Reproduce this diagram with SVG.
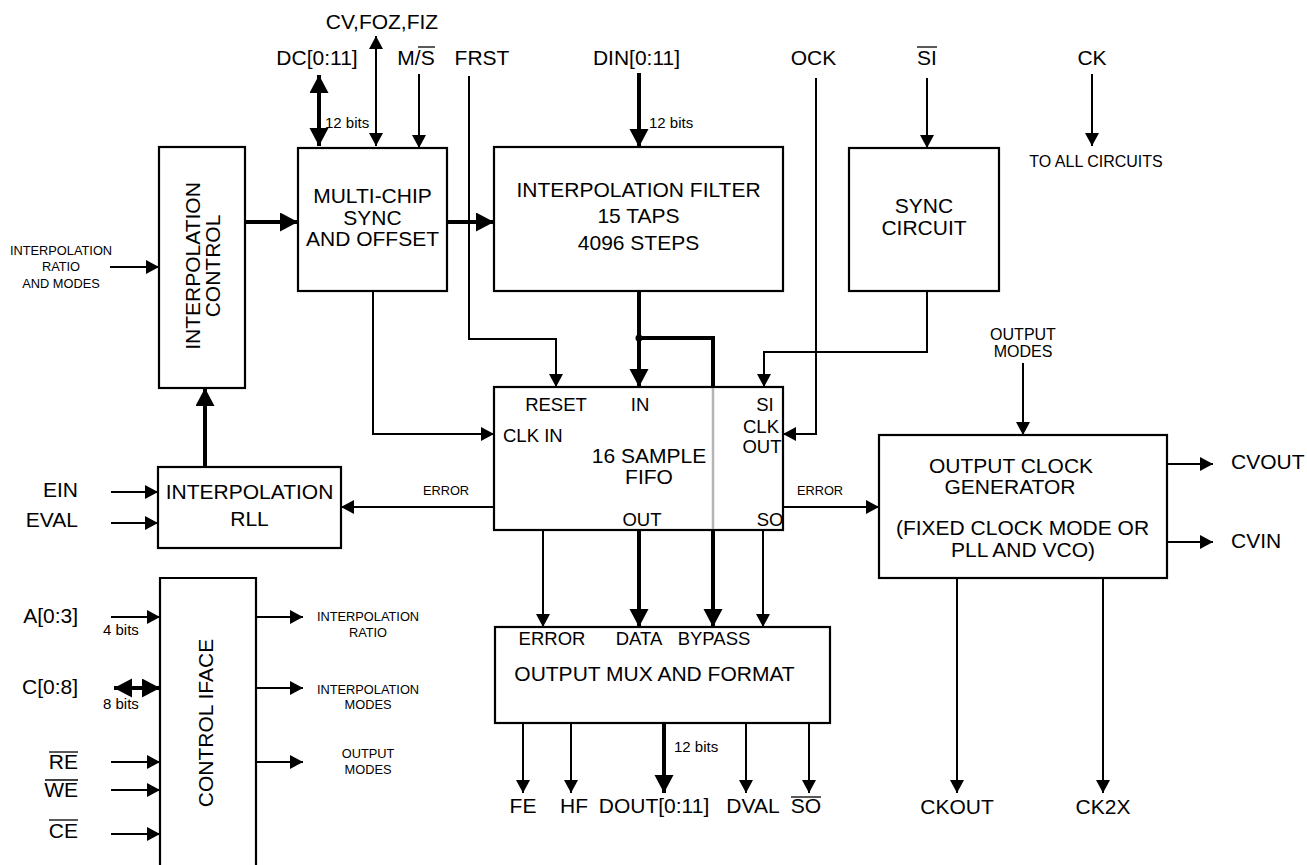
<svg xmlns="http://www.w3.org/2000/svg" width="1307" height="865" viewBox="0 0 1307 865">
<style>
text{font-family:"Liberation Sans",Arial,sans-serif;fill:#000}
.lg{font-size:21px}
.md{font-size:18.5px}
.sm{font-size:12.8px}
.ms{font-size:16px}
.bits{font-size:15px}
.c{text-anchor:middle}
.e{text-anchor:end}
.box{fill:#fff;stroke:#000;stroke-width:2.2}
.w{fill:none;stroke:#000;stroke-width:2}
.t{fill:none;stroke:#000;stroke-width:4}
.a{marker-end:url(#ah)}
.A{marker-end:url(#AH)}
.ov{stroke:#000;stroke-width:1.3}
</style>
<defs>
<marker id="ah" markerUnits="userSpaceOnUse" markerWidth="14" markerHeight="14" refX="13" refY="7" orient="auto-start-reverse"><path d="M0,0 L13,7 L0,14 z" fill="#000"/></marker>
<marker id="AH" markerUnits="userSpaceOnUse" markerWidth="19" markerHeight="20" refX="18" refY="9.5" orient="auto-start-reverse"><path d="M0,0 L18,9.5 L0,19 z" fill="#000"/></marker>
</defs>
<rect width="1307" height="865" fill="#fff"/>

<g id="connectors">
<path class="w" d="M376,36 V146" marker-start="url(#ah)" marker-end="url(#ah)"/>
<path class="w a" d="M419,74 V148"/>
<path class="w a" d="M469,76 V339 H556 V387"/>
<path class="w a" d="M816,78 V434 H783"/>
<path class="w a" d="M927,78 V148"/>
<path class="w a" d="M1092,74 V146"/>
<path class="w a" d="M927,291 V352 H764 V387"/>
<path class="w a" d="M110,267 H159"/>
<path class="w a" d="M373,291 V434 H494"/>
<path class="w a" d="M111,492 H158"/>
<path class="w a" d="M111,523 H158"/>
<path class="w a" d="M494,507 H341"/>
<path class="w a" d="M783,507 H879"/>
<path class="w a" d="M543,530 V627"/>
<path class="w a" d="M763,530 V627"/>
<path class="w a" d="M1023,363 V435"/>
<path class="w a" d="M1167,464 H1213"/>
<path class="w a" d="M1167,542 H1213"/>
<path class="w a" d="M957,578 V793"/>
<path class="w a" d="M1103,578 V793"/>
<path class="w a" d="M523,723 V793"/>
<path class="w a" d="M571,723 V793"/>
<path class="w a" d="M746,723 V793"/>
<path class="w a" d="M809,723 V793"/>
<path class="w a" d="M111,617 H160"/>
<path class="w a" d="M111,762 H160"/>
<path class="w a" d="M111,790 H160"/>
<path class="w a" d="M111,834 H160"/>
<path class="w a" d="M256,617 H303"/>
<path class="w a" d="M256,688 H303"/>
<path class="w a" d="M256,762 H303"/>
<path class="t" d="M319,75 V146" marker-start="url(#AH)" marker-end="url(#AH)"/>
<path class="t A" d="M639,73 V147"/>
<path class="t A" d="M245,222 H298"/>
<path class="t A" d="M447,222 H494"/>
<path class="t A" d="M639,291 V387"/>
<path class="t" d="M639,338 H713 V388"/>
<path class="t A" d="M713,530 V627"/>
<path class="t A" d="M639,530 V627"/>
<path class="t A" d="M205,467 V388"/>
<path class="t A" d="M664,723 V793"/>
<path class="t" d="M114,688 H160" marker-start="url(#AH)" marker-end="url(#AH)"/>
<circle cx="639" cy="338" r="3.5" fill="#000"/>
</g>

<g id="interpolation-control">
<rect class="box" x="159" y="147" width="86" height="241"/>
<text class="lg c" transform="translate(200,266) rotate(-90)">INTERPOLATION</text>
<text class="lg c" transform="translate(220,266) rotate(-90)">CONTROL</text>
</g>

<g id="multi-chip">
<rect class="box" x="298" y="148" width="149" height="143"/>
<text class="lg c" x="372.5" y="203">MULTI-CHIP</text>
<text class="lg c" x="372.5" y="225">SYNC</text>
<text class="lg c" x="372.5" y="246">AND OFFSET</text>
</g>

<g id="interpolation-filter">
<rect class="box" x="494" y="147" width="289" height="144"/>
<text class="lg c" x="638.5" y="197">INTERPOLATION FILTER</text>
<text class="lg c" x="638.5" y="223">15 TAPS</text>
<text class="lg c" x="638.5" y="250">4096 STEPS</text>
</g>

<g id="sync-circuit">
<rect class="box" x="849" y="148" width="150" height="143"/>
<text class="lg c" x="924" y="213">SYNC</text>
<text class="lg c" x="924" y="235">CIRCUIT</text>
</g>

<g id="fifo">
<rect class="box" x="494" y="387" width="289" height="143"/>
<line x1="713" y1="388" x2="713" y2="529" stroke="#b4b4b4" stroke-width="2.5"/>
<text class="md c" x="556" y="411">RESET</text>
<text class="md c" x="640" y="411">IN</text>
<text class="md c" x="765" y="411">SI</text>
<text class="md" x="503" y="442">CLK IN</text>
<text class="md c" x="761" y="433">CLK</text>
<text class="md c" x="762" y="453">OUT</text>
<text class="lg c" x="649" y="463">16 SAMPLE</text>
<text class="lg c" x="649" y="484">FIFO</text>
<text class="md c" x="642" y="526">OUT</text>
<text class="md c" x="770" y="526">SO</text>
</g>

<g id="interpolation-rll">
<rect class="box" x="158" y="467" width="183" height="81"/>
<text class="lg c" x="249.5" y="499">INTERPOLATION</text>
<text class="lg c" x="249.5" y="526">RLL</text>
</g>

<g id="control-iface">
<path class="box" d="M160,870 V578 H256 V870"/>
<text class="lg c" transform="translate(213,723) rotate(-90)">CONTROL IFACE</text>
</g>

<g id="output-mux">
<rect class="box" x="495" y="627" width="335" height="96"/>
<text class="md c" x="552" y="645">ERROR</text>
<text class="md c" x="639" y="645">DATA</text>
<text class="md c" x="714" y="645">BYPASS</text>
<text class="lg c" x="654.5" y="681">OUTPUT MUX AND FORMAT</text>
</g>

<g id="output-clock-generator">
<rect class="box" x="879" y="435" width="288" height="143"/>
<text class="lg c" x="1011" y="473">OUTPUT CLOCK</text>
<text class="lg c" x="1010" y="494">GENERATOR</text>
<text class="lg c" x="1022.5" y="535">(FIXED CLOCK MODE OR</text>
<text class="lg c" x="1023" y="557">PLL AND VCO)</text>
</g>

<g id="labels">
<text class="lg c" x="382" y="29">CV,FOZ,FIZ</text>
<text class="lg c" x="317" y="65">DC[0:11]</text>
<text class="lg c" x="416" y="65">M/S</text>
<line class="ov" x1="418" y1="47" x2="435" y2="47"/>
<text class="lg c" x="482" y="65">FRST</text>
<text class="lg c" x="636.5" y="65">DIN[0:11]</text>
<text class="lg c" x="813.5" y="65">OCK</text>
<text class="lg c" x="927" y="65">SI</text>
<line class="ov" x1="917" y1="47" x2="937" y2="47"/>
<text class="lg c" x="1092" y="65">CK</text>
<text class="ms c" x="1096" y="167">TO ALL CIRCUITS</text>
<text class="bits" x="325" y="128">12 bits</text>
<text class="bits" x="649" y="128">12 bits</text>
<text class="bits" x="674" y="752">12 bits</text>
<text class="sm c" x="61" y="255">INTERPOLATION</text>
<text class="sm c" x="61" y="271">RATIO</text>
<text class="sm c" x="61" y="288">AND MODES</text>
<text class="sm c" x="446" y="495">ERROR</text>
<text class="sm c" x="820" y="495">ERROR</text>
<text class="ms c" x="1023" y="340">OUTPUT</text>
<text class="ms c" x="1023" y="357">MODES</text>
<text class="lg" x="1231" y="469">CVOUT</text>
<text class="lg" x="1231" y="548">CVIN</text>
<text class="lg c" x="957" y="814">CKOUT</text>
<text class="lg c" x="1103" y="814">CK2X</text>
<text class="lg c" x="523" y="813">FE</text>
<text class="lg c" x="574" y="813">HF</text>
<text class="lg c" x="654" y="813">DOUT[0:11]</text>
<text class="lg c" x="753" y="813">DVAL</text>
<text class="lg c" x="806" y="813">SO</text>
<line class="ov" x1="791" y1="797" x2="821" y2="797"/>
<text class="lg e" x="78" y="497">EIN</text>
<text class="lg e" x="78" y="527">EVAL</text>
<text class="lg e" x="78" y="623">A[0:3]</text>
<text class="bits" x="103" y="635">4 bits</text>
<text class="lg e" x="78" y="694">C[0:8]</text>
<text class="bits" x="103" y="709">8 bits</text>
<text class="lg e" x="78" y="769">RE</text>
<line class="ov" x1="49" y1="752" x2="78" y2="752"/>
<text class="lg e" x="78" y="797">WE</text>
<line class="ov" x1="45" y1="780" x2="78" y2="780"/>
<text class="lg e" x="78" y="838">CE</text>
<line class="ov" x1="49" y1="820" x2="78" y2="820"/>
<text class="sm c" x="368" y="621">INTERPOLATION</text>
<text class="sm c" x="368" y="637">RATIO</text>
<text class="sm c" x="368" y="694">INTERPOLATION</text>
<text class="sm c" x="368" y="709">MODES</text>
<text class="sm c" x="368" y="758">OUTPUT</text>
<text class="sm c" x="368" y="774">MODES</text>
</g>
</svg>
